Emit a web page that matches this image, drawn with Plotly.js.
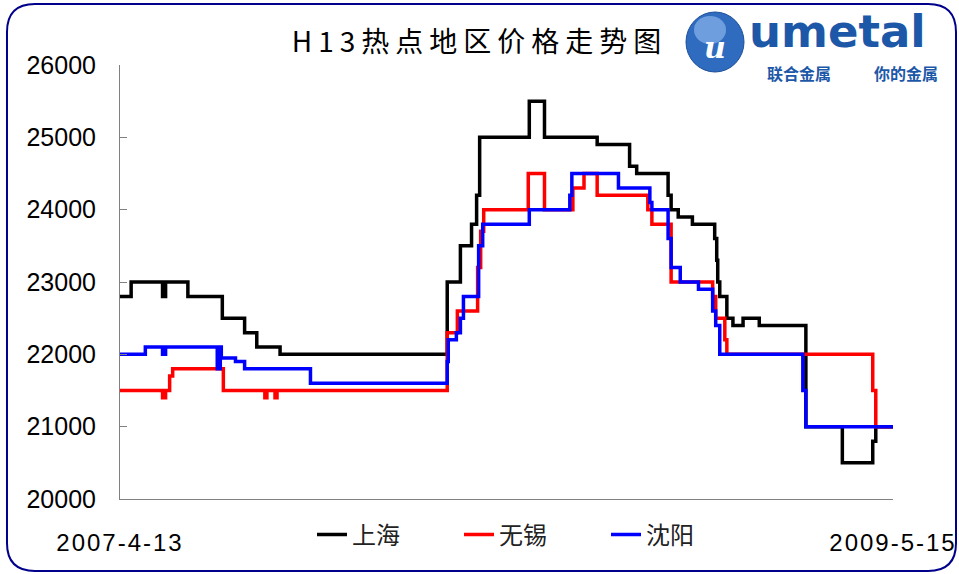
<!DOCTYPE html>
<html>
<head>
<meta charset="utf-8">
<script src="https://cdn.plot.ly/plotly-3.0.1.min.js"></script>
<style>
  html, body { margin: 0; padding: 0; background: #ffffff; }
  #chart { width: 959px; height: 574px; }
  .gtitle { letter-spacing: 6px; }
  .xtick text { letter-spacing: 2px; }
</style>
</head>
<body>
<div id="chart"></div>
<script>
// ---------- DATA ----------
const startDate = '2007-04-13';
const endDate = '2009-05-15';
const xTickLabels = ['2007-4-13', '2009-5-15'];
const seriesNames = ['上海', '无锡', '沈阳'];
const seriesColors = ['#000000', '#ff0000', '#0000ff'];

// days since 2007-04-13 at which a new price starts (step series)
const shanghaiDays = [0, 11, 42, 45, 67, 101, 123, 135, 158, 323, 336, 347, 352, 355, 404, 419, 471, 503, 510, 541, 544, 551, 565, 587, 589, 590, 592, 599, 605, 615, 631, 677, 713, 743, 746, 763];
const shanghaiPrice = [22800, 23000, 22800, 23000, 22800, 22500, 22300, 22100, 22000, 23000, 23500, 23800, 24200, 25000, 25500, 25000, 24900, 24600, 24500, 24200, 24000, 23900, 23800, 23600, 23300, 23000, 22800, 22500, 22400, 22500, 22400, 21000, 20500, 20800, 21000, 21000];

const wuxiDays = [0, 42, 45, 49, 52, 102, 143, 145, 153, 155, 323, 333, 353, 356, 359, 403, 419, 447, 458, 471, 521, 525, 544, 585, 588, 597, 599, 743, 746, 763];
const wuxiPrice = [21500, 21400, 21500, 21700, 21800, 21500, 21400, 21500, 21400, 21500, 22300, 22600, 23200, 23700, 24000, 24500, 24000, 24300, 24500, 24200, 24000, 23800, 23000, 22800, 22500, 22200, 22000, 21500, 21000, 21000];

const shenyangDays = [0, 25, 42, 45, 96, 99, 100, 114, 123, 188, 323, 324, 332, 336, 339, 354, 358, 404, 444, 446, 492, 523, 525, 541, 544, 553, 571, 585, 588, 592, 674, 677, 763];
const shenyangPrice = [22000, 22100, 22000, 22100, 21800, 22100, 21950, 21900, 21800, 21600, 21900, 22200, 22300, 22500, 22800, 23500, 23800, 24000, 24200, 24500, 24300, 24100, 24000, 23600, 23200, 23000, 22900, 22600, 22400, 22000, 21500, 21000, 21000];

const yTicks = [20000, 21000, 22000, 23000, 24000, 25000, 26000];

// ---------- helpers ----------
const t0 = Date.UTC(2007, 3, 13);
function toDate(d) { return new Date(t0 + d * 86400000).toISOString().slice(0, 10); }

// layout helpers: pixel -> paper (plot area 120..893 x 65..499)
const L = 120, R = 893, T = 65, B = 499;
function PX(x) { return (x - L) / (R - L); }
function PY(y) { return (B - y) / (B - T); }
function roundRect(x0, y0, x1, y1, r) {
  const p = (x, y) => PX(x).toFixed(4) + ',' + PY(y).toFixed(4);
  return 'M' + p(x0 + r, y0) + ' L' + p(x1 - r, y0) + ' Q' + p(x1, y0) + ' ' + p(x1, y0 + r) +
    ' L' + p(x1, y1 - r) + ' Q' + p(x1, y1) + ' ' + p(x1 - r, y1) +
    ' L' + p(x0 + r, y1) + ' Q' + p(x0, y1) + ' ' + p(x0, y1 - r) +
    ' L' + p(x0, y0 + r) + ' Q' + p(x0, y0) + ' ' + p(x0 + r, y0) + ' Z';
}

const FONT = 'Liberation Sans, Arial, Noto Sans CJK SC, sans-serif';
const CJK = 'Noto Sans CJK SC, sans-serif';

const allDays = [shanghaiDays, wuxiDays, shenyangDays];
const allPrices = [shanghaiPrice, wuxiPrice, shenyangPrice];

const traces = seriesNames.map((name, i) => ({
  type: 'scatter',
  mode: 'lines',
  name: name,
  x: allDays[i].map(toDate),
  y: allPrices[i],
  line: { color: seriesColors[i], width: 3.5, shape: 'hv' },
  hoverinfo: 'x+y+name'
}));

const layout = {
  width: 959,
  height: 574,
  margin: { l: L, r: 959 - R, t: T, b: 574 - B, pad: 0 },
  paper_bgcolor: '#ffffff',
  plot_bgcolor: '#ffffff',
  font: { family: FONT, color: '#000000' },
  title: {
    text: 'H13热点地区价格走势图',
    font: { family: CJK, size: 28, color: '#000000' },
    x: 0.5, xref: 'container', xanchor: 'center',
    y: 1 - 42 / 574, yref: 'container', yanchor: 'middle'
  },
  xaxis: {
    type: 'date',
    range: [startDate, endDate],
    showgrid: false,
    zeroline: false,
    showline: true,
    linecolor: '#808080',
    linewidth: 1,
    ticks: 'inside',
    ticklen: 6,
    tickcolor: '#808080',
    tickvals: [startDate, endDate],
    ticktext: xTickLabels,
    tickfont: { family: FONT, size: 24, color: '#000000' },
    ticklabelstandoff: 22,
    fixedrange: true
  },
  yaxis: {
    range: [20000, 26000],
    showgrid: false,
    zeroline: false,
    showline: true,
    linecolor: '#808080',
    linewidth: 1,
    ticks: 'inside',
    ticklen: 7,
    tickcolor: '#808080',
    tickvals: yTicks,
    ticktext: yTicks.map(String),
    tickfont: { family: FONT, size: 25, color: '#000000' },
    ticklabelstandoff: 18,
    fixedrange: true
  },
  showlegend: true,
  legend: {
    orientation: 'h',
    x: PX(312), xanchor: 'left',
    y: PY(535), yanchor: 'middle',
    entrywidth: 102, entrywidthmode: 'pixels',
    font: { family: CJK, size: 24, color: '#222222' },
    bgcolor: 'rgba(0,0,0,0)',
    borderwidth: 0,
    itemwidth: 30
  },
  shapes: [
    { type: 'path', xref: 'paper', yref: 'paper', path: roundRect(7, 4, 956, 571, 28),
      line: { color: '#00008b', width: 2 }, fillcolor: 'rgba(0,0,0,0)', layer: 'above' },
    { type: 'circle', xref: 'paper', yref: 'paper',
      x0: PX(686), x1: PX(744), y0: PY(72), y1: PY(12),
      fillcolor: '#2f6cc0', line: { color: '#1d4f9a', width: 1 } },
    { type: 'circle', xref: 'paper', yref: 'paper',
      x0: PX(694), x1: PX(726), y0: PY(44), y1: PY(16),
      fillcolor: '#6f9ede', line: { width: 0 } }
  ],
  annotations: [
    { text: '<b>umetal</b>', xref: 'paper', yref: 'paper', x: PX(747), y: PY(31),
      xanchor: 'left', yanchor: 'middle', showarrow: false,
      font: { family: 'DejaVu Sans, sans-serif', size: 45, color: '#1d58a8' } },
    { text: '<b>联合金属</b>', xref: 'paper', yref: 'paper', x: PX(765), y: PY(73),
      xanchor: 'left', yanchor: 'middle', showarrow: false,
      font: { family: CJK, size: 16, color: '#1d58a8' } },
    { text: '<b>你的金属</b>', xref: 'paper', yref: 'paper', x: PX(872), y: PY(73),
      xanchor: 'left', yanchor: 'middle', showarrow: false,
      font: { family: CJK, size: 16, color: '#1d58a8' } },
    { text: '<i><b>u</b></i>', xref: 'paper', yref: 'paper', x: PX(715), y: PY(47),
      xanchor: 'center', yanchor: 'middle', showarrow: false,
      font: { family: 'DejaVu Serif, serif', size: 30, color: '#ffffff' } }
  ]
};

Plotly.newPlot('chart', traces, layout, { displayModeBar: false, staticPlot: true });
</script>
</body>
</html>
